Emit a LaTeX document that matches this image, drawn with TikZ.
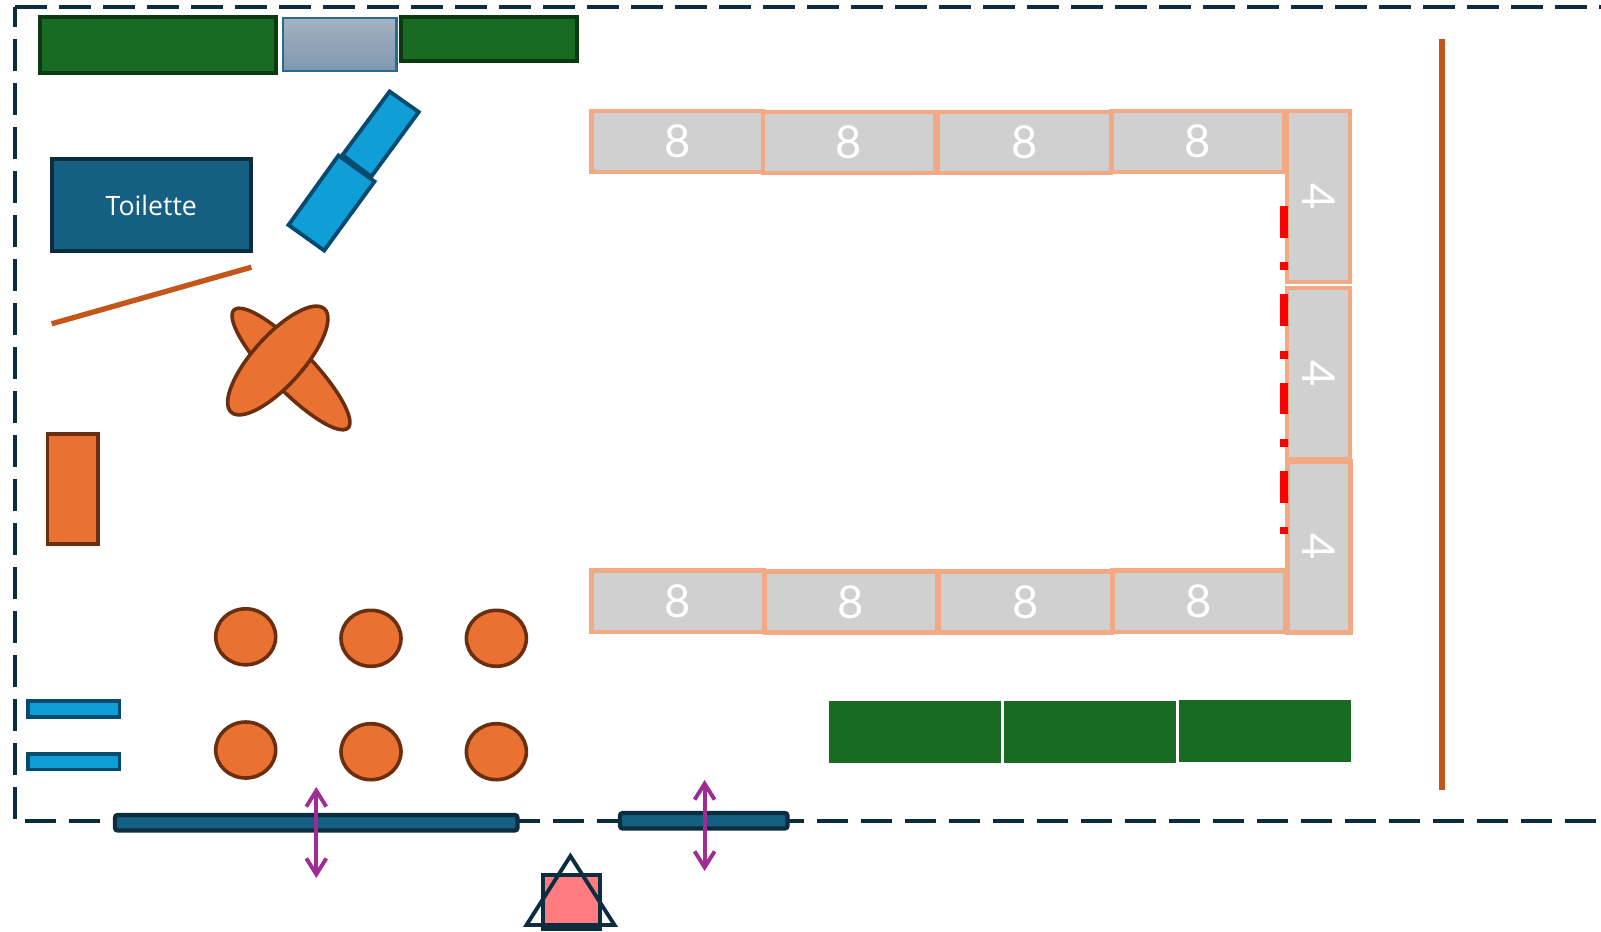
\documentclass[tikz,border=0pt]{standalone}
\usepackage{fontspec}
\setmainfont{Open Sans}
\newfontfamily\digitfont[Scale=1]{Lato}
\usetikzlibrary{arrows.meta}
\definecolor{wallblue}{HTML}{0C2C40}
\definecolor{plantgreen}{HTML}{196B24}
\definecolor{plantedge}{HTML}{0B3A10}
\definecolor{darkblue}{HTML}{156082}
\definecolor{lightblue}{HTML}{0F9ED5}
\definecolor{blueedge}{HTML}{054B70}
\definecolor{woodorange}{HTML}{E97132}
\definecolor{woodedge}{HTML}{6B2F0F}
\definecolor{lineorange}{HTML}{C4561A}
\definecolor{seatedge}{HTML}{F2AA84}
\definecolor{seatfill}{HTML}{D0D0D0}
\definecolor{doorarrow}{HTML}{A02B93}
\definecolor{pinkfill}{HTML}{FF7C80}
\definecolor{glasstop}{HTML}{A3B3C2}
\definecolor{glassbottom}{HTML}{7F97AE}
\definecolor{glassedge}{HTML}{2A6A90}
\tikzset{
	wall/.style={draw=wallblue, line width=3pt, dash pattern=on 23.8pt off 9.2pt},
	plant/.style={draw=plantedge, fill=plantgreen, line width=3pt},
	hedge/.style={fill=plantgreen},
	door/.style={draw=wallblue, fill=darkblue, line width=3.2pt, rounded corners=2pt},
	cabinet/.style={draw=blueedge, fill=lightblue, line width=2.9pt},
	wood/.style={draw=woodedge, fill=woodorange, line width=2.7pt},
	rail/.style={draw=lineorange, line width=4pt},
	seat/.style={draw=seatedge, fill=seatfill, line width=3.3pt},
	digit/.style={text=white, font=\digitfont\fontsize{34}{34}\selectfont, inner sep=0pt},
	move/.style={draw=doorarrow, line width=2.9pt, {Straight Barb[length=12pt,width=15pt]}-{Straight Barb[length=12pt,width=15pt]}},
	person/.style={draw=wallblue, line width=2.9pt}
}
\begin{document}
\begin{tikzpicture}[x=0.75pt, y=-0.75pt]
	\useasboundingbox (0,0) rectangle (1601,931);

	% walls
	\draw[wall] (15.3,819) -- (15.3,7);
	\draw[wall] (15.3,7) -- (1601,7);
	\draw[wall] (24.5,821) -- (1601,821);

	% back row
	\draw[plant] (39.5,17.5) rectangle (275.5,73);
	\draw[draw=glassedge, line width=2pt, top color=glasstop, bottom color=glassbottom] (283,18) rectangle (396.5,71);
	\draw[plant] (400.5,17.5) rectangle (577,61);

	% toilet
	\draw[draw=wallblue, fill=darkblue, line width=3pt] (51.5,159.3) rectangle (251,251) node[midway, text=white, font=\fontsize{20}{20}\selectfont] (toilet) {Toilette};
	\draw[rail] (51.7,323.8) -- (251.4,267.2);

	% cabinets
	\draw[cabinet] (389.6,91.5) -- (418.7,112) -- (371.2,176.7) -- (342.5,155) -- cycle;
	\draw[cabinet] (338.5,155.5) -- (374.5,181.5) -- (324.2,250.5) -- (288.5,225) -- cycle;
	\draw[cabinet] (28,701) rectangle (119.5,717);
	\draw[cabinet] (28,754) rectangle (119.5,769.5);

	% wood furniture
	\draw[wood] (291,369) ellipse [x radius=82, y radius=21, rotate=-46];
	\draw[wood] (277.8,360.5) ellipse [x radius=69.6, y radius=25, rotate=48];
	\draw[wood] (47.5,434) rectangle (98,544);
	\foreach \cx/\cy in {245.7/636.8, 371/638.3, 496.4/638.3, 245.7/750, 371/751.7, 496.4/751.7}
		\draw[wood] (\cx,\cy) ellipse [x radius=30, y radius=28];

	% seats
	\draw[seat] (591.5,111) rectangle (763,172) node[midway, digit] (top1) {8};
	\draw[seat] (763,112) rectangle (935,173) node[midway, digit] (top2) {8};
	\draw[seat] (938,112) rectangle (1111,173) node[midway, digit] (top3) {8};
	\draw[seat] (1111.5,111) rectangle (1284.5,172) node[midway, digit] (top4) {8};
	\draw[seat] (591.5,570.5) rectangle (764,632) node[midway, digit] (low1) {8};
	\draw[seat] (765,571.5) rectangle (937,632.5) node[midway, digit] (low2) {8};
	\draw[seat] (939,571.5) rectangle (1112,632.5) node[midway, digit] (low3) {8};
	\draw[seat] (1112.5,570.5) rectangle (1285,632) node[midway, digit] (low4) {8};
	\draw[seat] (1287,111) rectangle (1350,282) node[midway, digit, rotate=-90] (side1) {4};
	\draw[seat] (1287,288) rectangle (1350,459) node[midway, digit, rotate=-90] (side2) {4};
	\draw[seat] (1287.5,461.5) rectangle (1350.5,632.5) node[midway, digit, rotate=-90] (side3) {4};

	% red line
	\draw[red, line width=6pt, dash pattern=on 23.8pt off 18.4pt on 6pt off 18pt] (1284,206) -- (1284,534);

	% far rail
	\draw[rail] (1442,39) -- (1442,790);

	% hedges
	\fill[hedge] (829,701) rectangle (1001,762.5);
	\fill[hedge] (1004,701) rectangle (1176,762.5);
	\fill[hedge] (1179,700) rectangle (1351,761.5);

	% doors
	\draw[door] (115,815) rectangle (517.5,830.5);
	\draw[door] (620,813) rectangle (787.5,828.5);
	\draw[move] (316.3,787) -- (316.3,878);
	\draw[move] (704.6,780) -- (704.6,871);

	% person
	\draw[person, fill=pinkfill] (543,875) rectangle (600,929);
	\draw[person, line join=miter] (570.4,856) -- (614.5,925) -- (526.5,925) -- cycle;
\end{tikzpicture}
\end{document}
